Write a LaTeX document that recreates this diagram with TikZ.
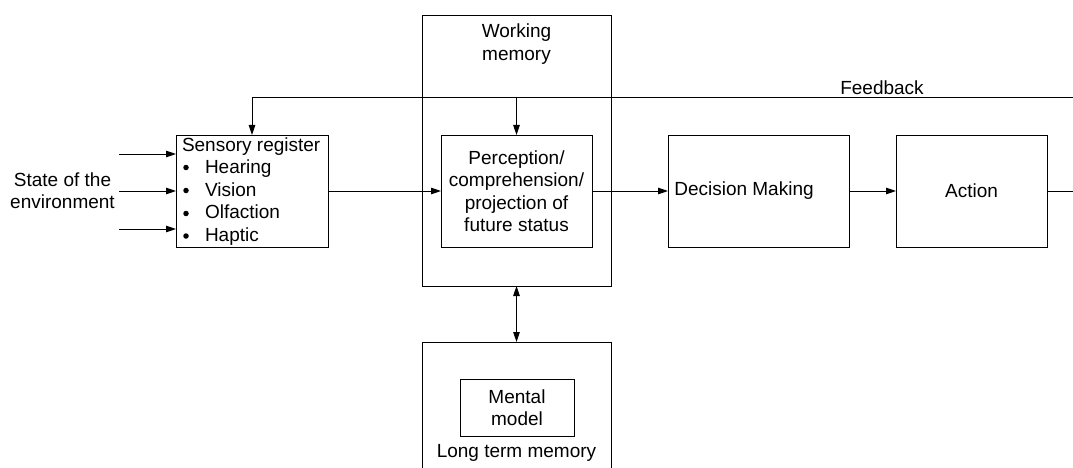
\documentclass[tikz,border=0pt]{standalone}
\usepackage{fontspec}
\setmainfont{Liberation Sans}
\usetikzlibrary{arrows.meta}
\begin{document}
\begin{tikzpicture}[x=1pt,y=-1pt,
  every node/.style={inner sep=0pt, outer sep=0pt, font=\fontsize{19}{22.5}\selectfont},
  box/.style={draw, line width=0.9pt, anchor=north west},
  txt/.style={align=center},
  dot/.style={circle, fill, minimum size=5.5pt},
  link/.style={line width=0.9pt},
  arr/.style={link, -{Triangle[length=10pt,width=6.5pt]}},
  darr/.style={link, {Triangle[length=10pt,width=6.5pt]}-{Triangle[length=10pt,width=6.5pt]}}]
  \clip (0,0) rectangle (1073,468);
  \fill[white] (0,0) rectangle (1073,468);

  % main boxes
  \node[box, minimum width=189, minimum height=271] (wm) at (422,15) {};
  \node[box, minimum width=152, minimum height=112] (sens) at (176,135) {};
  \node[box, minimum width=151, minimum height=112] (perc) at (441,135) {};
  \node[box, minimum width=181, minimum height=112] (dec) at (668,135) {};
  \node[box, minimum width=151, minimum height=112] (act) at (896,135) {};
  \node[box, minimum width=189, minimum height=140] (ltm) at (422,342) {};
  \node[box, minimum width=114, minimum height=57] (mm) at (460,379) {};

  % labels
  \node[txt] (wmlabel) at (516.5,44) {Working\\memory};
  \node[txt] (perclabel) at (perc.center) {Perception/\\comprehension/\\projection of\\future status};
  \node[txt] (declabel) at (744,191) {Decision Making};
  \node[txt] (actlabel) at (act.center) {Action};
  \node[txt] (mmlabel) at (mm.center) {Mental\\model};
  \node[txt] (ltmlabel) at (516.5,453) {Long term memory};
  \node[txt] (envlabel) at (62.5,190.5) {State of the\\environment};
  \node (fblabel) at (882,88) {Feedback};

  % sensory register list
  \node[anchor=north west, align=left] (senslabel) at (182,137.5)
    {Sensory register\\
     \hspace{23pt}Hearing\\
     \hspace{23pt}Vision\\
     \hspace{23pt}Olfaction\\
     \hspace{23pt}Haptic};
  \node[dot] (b1) at (186,167.5) {};
  \node[dot] (b2) at (186,190.5) {};
  \node[dot] (b3) at (186,213.5) {};
  \node[dot] (b4) at (186,236) {};

  % free ends
  \coordinate (in1) at (119,154);
  \coordinate (in2) at (119,191);
  \coordinate (in3) at (119,229);
  \coordinate (fbR) at (1080,97);
  \coordinate (outR) at (1080,191);

  % connectors
  \draw[arr] (in1) -- (sens.west |- in1);
  \draw[arr] (in2) -- (sens.west |- in2);
  \draw[arr] (in3) -- (sens.west |- in3);
  \draw[arr] (sens.east) -- (perc.west);
  \draw[arr] (perc.east) -- (dec.west);
  \draw[arr] (dec.east) -- (act.west);
  \draw[link] (act.east) -- (outR);
  \draw[arr] (fbR) -| (sens.north);
  \draw[arr] (perc.north |- fbR) -- (perc.north);
  \draw[darr] (wm.south) -- (ltm.north);
\end{tikzpicture}
\end{document}
